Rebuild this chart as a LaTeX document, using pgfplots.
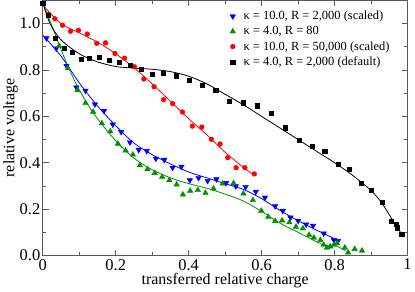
\documentclass[border=0pt]{standalone}
\usepackage{fontspec}
\setmainfont{Liberation Serif}
\usepackage{pgfplots}
\pgfplotsset{compat=1.18}
\definecolor{myblue}{RGB}{0,0,255}
\definecolor{mygreen}{RGB}{0,145,0}
\definecolor{myred}{RGB}{255,0,0}
\begin{document}
\begin{tikzpicture}
\begin{axis}[
  scale only axis, width=366pt, height=256pt,
  xmin=0, xmax=1, ymin=0, ymax=1.1,
  xtick={0,0.2,0.4,0.6,0.8,1}, ytick={0,0.2,0.4,0.6,0.8,1.0},
  minor xtick={0.1,0.3,0.5,0.7,0.9}, minor ytick={0.1,0.3,0.5,0.7,0.9},
  tick align=inside, major tick length=6pt, minor tick length=3.5pt,
  tick style={black!65, line width=0.6pt},
  axis line style={black!65, line width=0.8pt},
  /pgf/number format/assume math mode=true,
  yticklabel style={/pgf/number format/fixed, /pgf/number format/fixed zerofill, /pgf/number format/precision=1},
  xticklabel style={/pgf/number format/fixed},
  ticklabel style={font=\fontsize{16.5}{19}\selectfont},
  xticklabel style={yshift=0pt},
  yticklabel style={xshift=1pt},
  label style={font=\fontsize{16}{18}\selectfont},
  xlabel={transferred relative charge},
  ylabel={relative voltage},
  xlabel style={yshift=3.5pt},
  ylabel style={yshift=-5pt},
  legend cell align=left,
  legend style={draw=none, fill=none, at={(0.51,0.97)}, anchor=north west,
    font=\fontsize{12.5}{14}\selectfont, row sep=1.2pt, inner sep=1pt,
    /tikz/every odd column/.style={column sep=6pt}},
]
% fitted curves
\addplot[myblue, line width=0.8pt, smooth, forget plot] coordinates {
(0,0.95)(0.05,0.86)(0.1,0.745)(0.15,0.645)(0.2,0.56)(0.25,0.485)(0.3,0.435)(0.35,0.395)(0.4,0.36)(0.45,0.335)(0.5,0.31)(0.55,0.285)(0.6,0.245)(0.65,0.195)(0.7,0.15)(0.75,0.11)(0.81,0.065)};
\addplot[mygreen, line width=0.8pt, smooth, forget plot] coordinates {
(0,1.09)(0.03,0.97)(0.06,0.85)(0.09,0.745)(0.12,0.66)(0.15,0.59)(0.2,0.495)(0.25,0.42)(0.3,0.37)(0.35,0.335)(0.4,0.31)(0.45,0.29)(0.5,0.265)(0.55,0.235)(0.6,0.19)(0.65,0.14)(0.7,0.1)(0.75,0.06)(0.78,0.04)(0.8,0.045)(0.83,0.02)};
\addplot[myred, line width=0.8pt, smooth, forget plot] coordinates {
(0,1.08)(0.05,1.0)(0.1,0.96)(0.15,0.92)(0.2,0.87)(0.25,0.81)(0.3,0.74)(0.35,0.665)(0.4,0.59)(0.45,0.52)(0.5,0.445)(0.55,0.38)(0.58,0.345)};
\addplot[black, line width=0.8pt, smooth, forget plot] coordinates {
(0,1.09)(0.02,1.0)(0.05,0.93)(0.1,0.87)(0.15,0.835)(0.2,0.815)(0.25,0.808)(0.3,0.803)(0.35,0.793)(0.4,0.773)(0.45,0.74)(0.5,0.695)(0.55,0.65)(0.6,0.6)(0.65,0.55)(0.7,0.5)(0.75,0.45)(0.8,0.4)(0.85,0.345)(0.9,0.28)(0.93,0.225)(0.96,0.15)(0.985,0.09)};
% data points
\addplot[only marks, mark=triangle*, mark options={rotate=180, fill=myblue, draw=myblue}, mark size=3.2pt] coordinates {
(0.010,0.937)(0.037,0.893)(0.065,0.818)(0.092,0.725)(0.117,0.711)(0.143,0.652)(0.168,0.624)(0.192,0.565)(0.215,0.533)(0.239,0.488)(0.263,0.456)(0.285,0.451)(0.310,0.418)(0.333,0.413)(0.356,0.379)(0.380,0.383)(0.403,0.325)(0.427,0.335)(0.452,0.322)(0.476,0.329)(0.502,0.313)(0.529,0.299)(0.556,0.296)(0.584,0.275)(0.609,0.250)(0.637,0.213)(0.658,0.193)(0.679,0.164)(0.700,0.150)(0.722,0.134)(0.741,0.129)(0.770,0.095)(0.798,0.067)(0.809,0.063)};
\addlegendentry{κ = 10.0, R = 2,000 (scaled)}
\addplot[only marks, mark=triangle*, mark options={fill=mygreen, draw=mygreen}, mark size=3.2pt] coordinates {
(0.045,0.904)(0.069,0.807)(0.095,0.712)(0.117,0.657)(0.138,0.620)(0.162,0.570)(0.185,0.535)(0.206,0.482)(0.227,0.453)(0.247,0.435)(0.266,0.389)(0.287,0.372)(0.307,0.356)(0.327,0.339)(0.347,0.325)(0.367,0.306)(0.384,0.263)(0.404,0.279)(0.425,0.282)(0.446,0.270)(0.468,0.289)(0.493,0.310)(0.523,0.312)(0.550,0.267)(0.576,0.239)(0.599,0.193)(0.618,0.167)(0.637,0.149)(0.656,0.151)(0.676,0.143)(0.694,0.124)(0.713,0.117)(0.730,0.089)(0.743,0.077)(0.761,0.067)(0.770,0.046)(0.779,0.034)(0.788,0.039)(0.798,0.046)(0.807,0.053)(0.828,0.034)(0.837,0.013)(0.855,0.028)(0.875,0.021)};
\addlegendentry{κ = 4.0, R = 80}
\addplot[only marks, mark=*, mark options={fill=myred, draw=myred}, mark size=2.4pt] coordinates {
(0.015,1.040)(0.033,1.021)(0.054,0.993)(0.076,0.967)(0.098,0.971)(0.122,0.955)(0.148,0.915)(0.172,0.917)(0.198,0.871)(0.224,0.851)(0.251,0.814)(0.277,0.761)(0.305,0.728)(0.331,0.672)(0.356,0.655)(0.383,0.619)(0.410,0.558)(0.436,0.554)(0.462,0.501)(0.486,0.481)(0.507,0.422)(0.530,0.379)(0.554,0.379)(0.580,0.352)};
\addlegendentry{κ = 10.0, R = 50,000 (scaled)}
\addplot[only marks, mark=square*, mark options={fill=black, draw=black}, mark size=2.1pt] coordinates {
(0.0,1.087)(0.014,1.037)(0.035,0.937)(0.058,0.894)(0.081,0.875)(0.105,0.847)(0.128,0.850)(0.154,0.854)(0.181,0.841)(0.210,0.835)(0.240,0.821)(0.269,0.803)(0.299,0.782)(0.331,0.787)(0.366,0.775)(0.401,0.757)(0.438,0.734)(0.474,0.712)(0.510,0.665)(0.549,0.659)(0.587,0.646)(0.627,0.614)(0.665,0.551)(0.702,0.496)(0.738,0.472)(0.773,0.451)(0.809,0.393)(0.841,0.372)(0.872,0.313)(0.900,0.280)(0.931,0.230)(0.955,0.147)(0.969,0.134)(0.971,0.120)(0.984,0.093)};
\addlegendentry{κ = 4.0, R = 2,000 (default)}
\end{axis}
\end{tikzpicture}
\end{document}
